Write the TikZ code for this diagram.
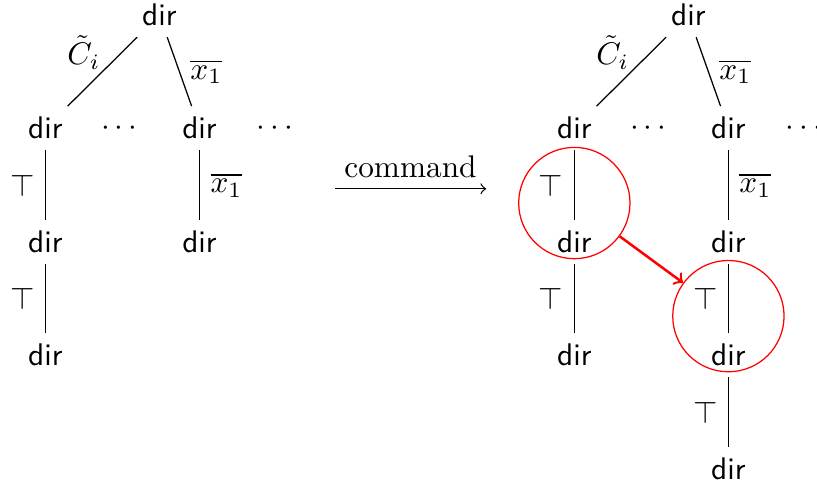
\documentclass[tikz,border=0pt]{standalone}
\usepackage{amssymb}
\tikzset{
  trie dir/.style={font=\sffamily},
  trie dots/.style={inner sep=2pt},
  trie edge/.style={draw, line width=.4pt},
  trie mark/.style={inner sep=3.33pt},
  trie focus/.style={circle, draw=red, line width=.4pt, minimum size=1.25cm, inner sep=0pt},
  trie move/.style={draw=red, line width=.8pt, ->},
  trie command/.style={draw, line width=.4pt, ->},
}
\newcommand{\NegLit}{$\overline{x_1}$}
\newcommand{\TopLit}{$\top$}

\begin{document}
\begin{tikzpicture}[x=1cm,y=1cm]
  \useasboundingbox (0,0) rectangle (9.175,5.47);

  % left tree, before the command
  \node[trie dir] (rootL) at (1.79,5.30) {dir};
  \node[trie dir] (aL) at (.51,4.03) {dir};
  \node[trie dots] (dotsL1) at (1.34,4.03) {$\cdots$};
  \node[trie dir] (bL) at (2.24,4.03) {dir};
  \node[trie dots] (dotsL2) at (3.09,4.03) {$\cdots$};
  \node[trie dir] (a1L) at (.51,2.75) {dir};
  \node[trie dir] (a2L) at (.51,1.48) {dir};
  \node[trie dir] (b1L) at (2.24,2.75) {dir};

  \draw[trie edge] (rootL) -- node[trie mark, above left, inner sep=.5pt] {$\tilde{C}_i$} (aL);
  \draw[trie edge] (rootL) -- node[trie mark, right] {\NegLit} (bL);
  \draw[trie edge] (aL) -- node[trie mark, left] {\TopLit} (a1L);
  \draw[trie edge] (a1L) -- node[trie mark, left] {\TopLit} (a2L);
  \draw[trie edge] (bL) -- node[trie mark, right] {\NegLit} (b1L);

  % command
  \coordinate (cmdFrom) at (3.76,3.35);
  \coordinate (cmdTo) at (5.46,3.35);
  \draw[trie command] (cmdFrom) -- node[above] {command} (cmdTo);

  % right tree, after the command
  \node[trie dir] (rootR) at (7.73,5.30) {dir};
  \node[trie dir] (aR) at (6.45,4.03) {dir};
  \node[trie dots] (dotsR1) at (7.28,4.03) {$\cdots$};
  \node[trie dir] (bR) at (8.18,4.03) {dir};
  \node[trie dots] (dotsR2) at (9.03,4.03) {$\cdots$};
  \node[trie dir] (a1R) at (6.45,2.75) {dir};
  \node[trie dir] (a2R) at (6.45,1.48) {dir};
  \node[trie dir] (b1R) at (8.18,2.75) {dir};
  \node[trie dir] (b2R) at (8.18,1.48) {dir};
  \node[trie dir] (b3R) at (8.18,.20) {dir};

  \draw[trie edge] (rootR) -- node[trie mark, above left, inner sep=.5pt] {$\tilde{C}_i$} (aR);
  \draw[trie edge] (rootR) -- node[trie mark, right] {\NegLit} (bR);
  \draw[trie edge] (aR) -- node[trie mark, left] {\TopLit} (a1R);
  \draw[trie edge] (a1R) -- node[trie mark, left] {\TopLit} (a2R);
  \draw[trie edge] (bR) -- node[trie mark, right] {\NegLit} (b1R);
  \draw[trie edge] (b1R) -- node[trie mark, left] {\TopLit} (b2R);
  \draw[trie edge] (b2R) -- node[trie mark, left] {\TopLit} (b3R);

  % moved subtree
  \node[trie focus] (fromT) at (6.45,3.19) {};
  \node[trie focus] (toT) at (8.18,1.92) {};
  \draw[trie move] (fromT) -- (toT);
\end{tikzpicture}
\end{document}
